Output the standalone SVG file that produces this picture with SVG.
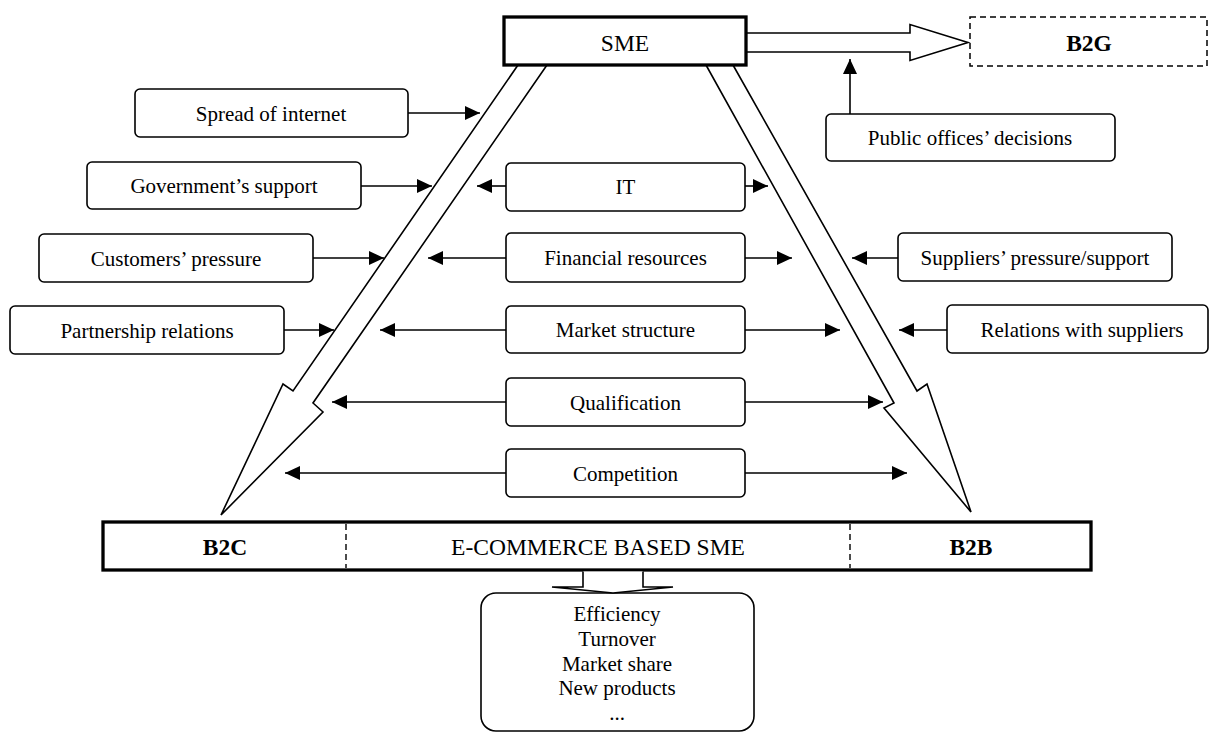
<svg xmlns="http://www.w3.org/2000/svg" width="1210" height="733" viewBox="0 0 1210 733">
<style>
  .box{fill:#fff;stroke:#000;stroke-width:1.6}
  .big{fill:#fff;stroke:#000;stroke-width:3.3}
  .blk{fill:#fff;stroke:#000;stroke-width:1.6;stroke-linejoin:miter}
  .lbl{font-family:"Liberation Serif","Times New Roman",serif;font-size:21px;fill:#000;text-anchor:middle}
  .main{font-family:"Liberation Serif","Times New Roman",serif;font-size:23.5px;fill:#000;text-anchor:middle}
  .bold{font-weight:bold}
  .con{stroke:#000;stroke-width:1.6;fill:none;marker-end:url(#ah)}
  .dash{stroke:#000;stroke-width:1.4;stroke-dasharray:6 4;fill:none}
</style>
<defs>
  <marker id="ah" markerUnits="userSpaceOnUse" markerWidth="16" markerHeight="15" refX="15" refY="7" orient="auto">
    <path d="M0,0 L15,7 L0,14 z" fill="#000"/>
  </marker>
</defs>

<g id="flows">
  <path class="blk" d="M746,33 L910,33 L910,24.5 L968,42.5 L910,60.5 L910,52 L746,52"/>
  <path class="blk" d="M518,65 L293,391 L283,384 L221,515 L323,412 L313,403 L547,65"/>
  <path class="blk" d="M706,65 L894,403 L884,408 L971,512 L927,384 L917,391 L733,65"/>
</g>

<g id="sme">
  <rect class="big" x="504" y="17" width="242" height="48"/>
  <text class="main" x="625" y="51">SME</text>
</g>

<g id="b2g">
  <rect x="970" y="17" width="237" height="49" fill="#fff" class="dash" style="stroke-width:1.5"/>
  <text class="main bold" x="1089" y="51">B2G</text>
</g>

<g id="public-offices">
  <rect class="box" x="826" y="114" width="289" height="47" rx="5"/>
  <text class="lbl" x="970" y="145">Public offices’ decisions</text>
</g>

<g id="spread">
  <rect class="box" x="135" y="89" width="273" height="48" rx="5"/>
  <text class="lbl" x="271" y="120.5">Spread of internet</text>
</g>
<g id="government">
  <rect class="box" x="87" y="162" width="274" height="47" rx="5"/>
  <text class="lbl" x="224" y="193">Government’s support</text>
</g>
<g id="customers">
  <rect class="box" x="39" y="234" width="274" height="48" rx="5"/>
  <text class="lbl" x="176" y="265.5">Customers’ pressure</text>
</g>
<g id="partnership">
  <rect class="box" x="10" y="306" width="274" height="48" rx="5"/>
  <text class="lbl" x="147" y="337.5">Partnership relations</text>
</g>

<g id="it">
  <rect class="box" x="506" y="163" width="239" height="48" rx="5"/>
  <text class="lbl" x="625.5" y="194">IT</text>
</g>
<g id="financial">
  <rect class="box" x="506" y="233" width="239" height="49" rx="5"/>
  <text class="lbl" x="625.5" y="265">Financial resources</text>
</g>
<g id="market">
  <rect class="box" x="506" y="306" width="239" height="47" rx="5"/>
  <text class="lbl" x="625.5" y="337">Market structure</text>
</g>
<g id="qualification">
  <rect class="box" x="506" y="378" width="239" height="48" rx="5"/>
  <text class="lbl" x="625.5" y="409.5">Qualification</text>
</g>
<g id="competition">
  <rect class="box" x="506" y="449" width="239" height="48" rx="5"/>
  <text class="lbl" x="625.5" y="480.5">Competition</text>
</g>

<g id="suppliers-pressure">
  <rect class="box" x="898" y="233" width="274" height="48" rx="5"/>
  <text class="lbl" x="1035" y="264.5">Suppliers’ pressure/support</text>
</g>
<g id="relations-suppliers">
  <rect class="box" x="947" y="305" width="261" height="48" rx="5"/>
  <text class="lbl" x="1082" y="337">Relations with suppliers</text>
</g>

<g id="ecommerce-sme">
  <rect class="big" x="103" y="522" width="988" height="48"/>
  <line class="dash" x1="346" y1="524" x2="346" y2="568"/>
  <line class="dash" x1="850" y1="524" x2="850" y2="568"/>
  <text class="main bold" x="225" y="555">B2C</text>
  <text class="main" x="598" y="555">E-COMMERCE BASED SME</text>
  <text class="main bold" x="971" y="555">B2B</text>
</g>

<g id="outcomes">
  <rect class="box" x="481" y="593" width="273" height="138" rx="15"/>
  <text class="lbl" x="617" y="621">Efficiency</text>
  <text class="lbl" x="617" y="646">Turnover</text>
  <text class="lbl" x="617" y="671">Market share</text>
  <text class="lbl" x="617" y="695">New products</text>
  <text class="lbl" x="617" y="720">...</text>
</g>

<g id="result-arrow">
  <path class="blk" d="M583,571.5 L583,587 L552,587 L613,593 L673,587 L643,587 L643,571.5"/>
</g>

<g id="connectors">
  <line class="con" x1="408" y1="113" x2="480" y2="113"/>
  <line class="con" x1="361" y1="186" x2="432" y2="186"/>
  <line class="con" x1="313" y1="258" x2="384" y2="258"/>
  <line class="con" x1="284" y1="330" x2="334" y2="330"/>
  <line class="con" x1="506" y1="186" x2="477" y2="186"/>
  <line class="con" x1="745" y1="186" x2="768" y2="186"/>
  <line class="con" x1="506" y1="258" x2="428" y2="258"/>
  <line class="con" x1="745" y1="258" x2="792" y2="258"/>
  <line class="con" x1="506" y1="330" x2="380" y2="330"/>
  <line class="con" x1="745" y1="330" x2="840" y2="330"/>
  <line class="con" x1="506" y1="402" x2="332" y2="402"/>
  <line class="con" x1="745" y1="402" x2="883" y2="402"/>
  <line class="con" x1="506" y1="473" x2="285" y2="473"/>
  <line class="con" x1="745" y1="473" x2="907" y2="473"/>
  <line class="con" x1="898" y1="258" x2="852" y2="258"/>
  <line class="con" x1="947" y1="330" x2="899" y2="330"/>
  <line class="con" x1="850" y1="114" x2="850" y2="59"/>
</g>
</svg>
